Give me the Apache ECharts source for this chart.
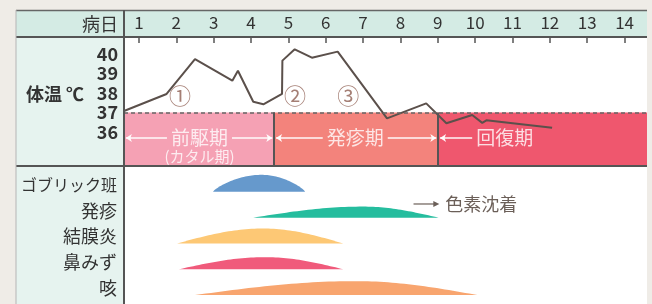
<!DOCTYPE html>
<html>
<head>
<meta charset="utf-8">
<style>
  html, body { margin: 0; padding: 0; background: #efece7; }
  #chart { width: 652px; height: 304px; }
</style>
<script src="https://cdn.jsdelivr.net/npm/echarts@6/dist/echarts.min.js"></script>
</head>
<body>
<div id="chart"></div>
<script>
// ---- data ----
var days = [1, 2, 3, 4, 5, 6, 7, 8, 9, 10, 11, 12, 13, 14];
var tempTicks = [36, 37, 38, 39, 40];
var tempMin = 34.26;
var tempMax = 40.87;

// body temperature curve (day, ℃)
var tempDays = [0.6, 1.74, 2.5, 3.5, 3.65, 4.06, 4.33, 4.83, 4.84, 5.17, 5.63, 6.32, 7.64, 8.69, 9.23, 9.92, 10.19, 10.3, 12.06];
var tempValues = [37.08, 37.95, 39.74, 38.63, 39.14, 37.55, 37.42, 37.95, 39.66, 40.24, 39.81, 40.12, 36.7, 37.47, 36.45, 36.87, 36.47, 36.6, 36.22];
var feverLine = 37;

// phases
var phaseNames = ['前駆期', '発疹期', '回復期'];
var phaseSubNames = ['(カタル期)', '', ''];
var phaseStart = [0.6, 4.62, 9.01];
var phaseEnd = [4.62, 9.01, 14.6];
var phaseLabelDays = [2.62, 6.79, 10.79];
var phaseLabelTemp = 35.69;

// circled markers on the fever curve
var markerLabels = ['①', '②', '③'];
var markerDays = [2.1, 5.18, 6.6];
var markerTemps = [37.85, 37.85, 37.85];

// symptoms: start day, peak day, end day, relative strength
var symptoms = ['ゴブリック班', '発疹', '結膜炎', '鼻みず', '咳'];
var symptomStart = [2.98, 4.06, 2.02, 2.07, 2.5];
var symptomPeak = [4.28, 7.0, 4.32, 4.38, 6.8];
var symptomEnd = [5.45, 9.02, 6.47, 6.47, 10.06];
var symptomLevel = [0.66, 0.43, 0.58, 0.47, 0.54];

// pigmentation note after the rash
var pigmentFrom = 8.35;
var pigmentTo = 9.04;
var pigmentText = '色素沈着';

// ---- styles ----
var FONT = '"Noto Sans CJK JP", "Noto Sans", sans-serif';
var INK = '#333333';
var LINE = '#555555';
var phaseColors = ['#f5a1b4', '#f3837c', '#ef576e'];
var symptomColors = ['#6699cc', '#25bd9e', '#fdc875', '#f05a7b', '#f8a56f'];
var domePower = [0.75, 1, 1, 1, 1];

var chart = echarts.init(document.getElementById('chart'), null, { renderer: 'canvas' });

var tempData = tempDays.map(function (d, i) { return [d, tempValues[i]]; });

var areaData = phaseNames.map(function (n, i) {
  return [
    { coord: [phaseStart[i], feverLine], itemStyle: { color: phaseColors[i], opacity: 1 } },
    { coord: [phaseEnd[i], tempMin] }
  ];
});

// arrows either side of the phase names
var gap = 0.87, inset = 0.05;
var arrowLines = [];
phaseNames.forEach(function (n, i) {
  var c = phaseLabelDays[i];
  arrowLines.push([
    { coord: [c - gap, phaseLabelTemp], symbol: 'none' },
    { coord: [phaseStart[i] + inset, phaseLabelTemp], symbol: 'arrow', symbolSize: 6 }
  ]);
  if (i < phaseNames.length - 1) {
    arrowLines.push([
      { coord: [c + gap, phaseLabelTemp], symbol: 'none' },
      { coord: [phaseEnd[i] - inset, phaseLabelTemp], symbol: 'arrow', symbolSize: 6 }
    ]);
  }
});
arrowLines.forEach(function (p) {
  p[0].lineStyle = { color: '#ffffff', width: 1.5, type: 'solid', opacity: 0.95 };
});

var dividerLines = phaseEnd.slice(0, -1).map(function (d) {
  return [
    { coord: [d, feverLine], symbol: 'none', lineStyle: { color: LINE, width: 2, type: 'solid' } },
    { coord: [d, tempMin], symbol: 'none' }
  ];
});

var phaseLabelData = phaseNames.map(function (n, i) {
  var two = phaseSubNames[i] !== '';
  return {
    value: [phaseLabelDays[i], phaseLabelTemp],
    label: {
      show: true,
      position: 'inside',
      align: 'center',
      verticalAlign: 'middle',
      offset: two ? [0, 9] : [0, 0],
      formatter: two ? '{a|' + n + '}\n{b|' + phaseSubNames[i] + '}' : '{a|' + n + '}',
      rich: {
        a: { fontSize: 19, lineHeight: 19, color: '#ffffff', fontFamily: FONT, align: 'center' },
        b: { fontSize: 15, lineHeight: 18, color: '#ffffff', fontFamily: FONT, align: 'center' }
      }
    }
  };
});

var markerData = markerLabels.map(function (t, i) {
  return { value: [markerDays[i], markerTemps[i]], name: t };
});

var symptomData = symptoms.map(function (s, i) {
  return [i, symptomStart[i], symptomPeak[i], symptomEnd[i], symptomLevel[i]];
});

function renderDome(params, api) {
  var row = api.value(0);
  var i = params.dataIndex;
  var ps = api.coord([api.value(1), row]);
  var xp = api.coord([api.value(2), row])[0];
  var xe = api.coord([api.value(3), row])[0];
  var band = api.size([0, 1])[1];
  var base = ps[1] + band * 0.27;
  var h = api.value(4) * band;
  var pw = domePower[i];
  var pts = [], n = 30, k, u;
  for (k = 0; k <= n; k++) {
    u = k / n;
    pts.push([ps[0] + (xp - ps[0]) * u, base - h * Math.pow(Math.sin(u * Math.PI / 2), pw)]);
  }
  for (k = 1; k <= n; k++) {
    u = k / n;
    pts.push([xp + (xe - xp) * u, base - h * Math.pow(Math.cos(u * Math.PI / 2), pw)]);
  }
  return { type: 'polygon', shape: { points: pts }, style: { fill: symptomColors[i] } };
}

function renderPigment(params, api) {
  var row = api.value(2);
  var a = api.coord([api.value(0), row]);
  var b = api.coord([api.value(1), row]);
  var band = api.size([0, 1])[1];
  var y = a[1] - band * 0.26;
  var c = '#6b5f58';
  return {
    type: 'group',
    children: [
      { type: 'line', shape: { x1: a[0], y1: y, x2: b[0] - 4, y2: y }, style: { stroke: c, lineWidth: 1.2 } },
      { type: 'polygon', shape: { points: [[b[0], y], [b[0] - 6, y - 3], [b[0] - 6, y + 3]] }, style: { fill: c } },
      { type: 'text', style: { x: b[0] + 6, y: y, text: pigmentText, fill: c, font: '18px ' + FONT, verticalAlign: 'middle', align: 'left' } }
    ]
  };
}

var option = {
  backgroundColor: '#efece7',
  animation: false,
  textStyle: { fontFamily: FONT },
  graphic: [
    { type: 'rect', z: -10, shape: { x: 124, y: 37, width: 523, height: 267 }, style: { fill: '#ffffff' } },
    { type: 'rect', z: -10, shape: { x: 16, y: 10, width: 631, height: 27 }, style: { fill: '#d4ebe4' } },
    { type: 'rect', z: -10, shape: { x: 16, y: 37, width: 108, height: 267 }, style: { fill: '#e6f3ef' } },
    { type: 'line', z: 100, shape: { x1: 16, y1: 10.5, x2: 647, y2: 10.5 }, style: { stroke: '#666', lineWidth: 1.5 } },
    { type: 'line', z: 100, shape: { x1: 16, y1: 37, x2: 647, y2: 37 }, style: { stroke: LINE, lineWidth: 2 } },
    { type: 'line', z: 100, shape: { x1: 16, y1: 166, x2: 647, y2: 166 }, style: { stroke: LINE, lineWidth: 2 } },
    { type: 'line', z: 100, shape: { x1: 124, y1: 10, x2: 124, y2: 304 }, style: { stroke: LINE, lineWidth: 2 } },
    { type: 'line', z: 100, shape: { x1: 16, y1: 10, x2: 16, y2: 304 }, style: { stroke: '#b5b5b5', lineWidth: 1 } },
    { type: 'text', z: 100, style: { x: 118, y: 24, text: '病日', fill: INK, font: '18px ' + FONT, align: 'right', verticalAlign: 'middle' } },
    { type: 'text', z: 100, style: { x: 26, y: 94, text: '体温 ℃', fill: INK, font: 'bold 18px ' + FONT, align: 'left', verticalAlign: 'middle' } }
  ],
  grid: [
    { left: 124, right: 5, top: 37, height: 129 },
    { left: 124, right: 5, top: 172, bottom: 3 }
  ],
  xAxis: [
    {
      gridIndex: 0, type: 'value', position: 'top', min: 0.6, max: 14.6,
      axisLine: { show: false }, splitLine: { show: false },
      axisTick: { show: true, inside: true, length: 6, customValues: days, lineStyle: { color: LINE, width: 1.5 } },
      axisLabel: { customValues: days, margin: 6, color: INK, fontSize: 17, fontFamily: FONT }
    },
    { gridIndex: 1, type: 'value', min: 0.6, max: 14.6, show: false }
  ],
  yAxis: [
    {
      gridIndex: 0, type: 'value', min: tempMin, max: tempMax,
      axisLine: { show: false }, splitLine: { show: false },
      axisTick: { show: true, inside: true, length: 4, customValues: [36], lineStyle: { color: LINE, width: 1.5 } },
      axisLabel: { customValues: tempTicks, margin: 6, color: INK, fontSize: 18, fontWeight: 'bold', fontFamily: FONT }
    },
    {
      gridIndex: 1, type: 'category', inverse: true, data: symptoms,
      axisLine: { show: false }, axisTick: { show: false }, splitLine: { show: false },
      axisLabel: {
        margin: 7, color: INK, fontFamily: FONT,
        formatter: function (v) { return v.length > 4 ? '{s|' + v + '}' : '{n|' + v + '}'; },
        rich: {
          s: { fontSize: 16, color: INK, fontFamily: FONT },
          n: { fontSize: 18, color: INK, fontFamily: FONT }
        }
      }
    }
  ],
  series: [
    {
      name: 'phases', type: 'line', xAxisIndex: 0, yAxisIndex: 0, z: 1, data: [],
      markArea: { silent: true, label: { show: false }, data: areaData }
    },
    {
      name: '体温', type: 'line', xAxisIndex: 0, yAxisIndex: 0, z: 3,
      data: tempData, showSymbol: false, symbol: 'none',
      lineStyle: { color: '#5b504b', width: 2 },
      markLine: {
        silent: true, symbol: 'none', label: { show: false },
        data: [{ yAxis: feverLine, lineStyle: { color: '#666', width: 1.5, type: [4, 3] } }]
          .concat(dividerLines).concat(arrowLines)
      }
    },
    {
      name: 'phaseLabels', type: 'scatter', xAxisIndex: 0, yAxisIndex: 0, z: 4,
      symbolSize: 1, itemStyle: { color: 'rgba(0,0,0,0)' }, data: phaseLabelData
    },
    {
      name: 'markers', type: 'scatter', xAxisIndex: 0, yAxisIndex: 0, z: 4,
      symbolSize: 1, itemStyle: { color: 'rgba(0,0,0,0)' }, data: markerData,
      label: {
        show: true, position: 'inside', align: 'center', verticalAlign: 'middle',
        formatter: '{b}', fontSize: 22, color: '#8f5f52', fontFamily: FONT
      }
    },
    {
      name: 'symptoms', type: 'custom', xAxisIndex: 1, yAxisIndex: 1,
      renderItem: renderDome, encode: { x: [1, 2, 3], y: 0 }, data: symptomData
    },
    {
      name: 'pigment', type: 'custom', xAxisIndex: 1, yAxisIndex: 1,
      renderItem: renderPigment, encode: { x: [0, 1], y: 2 },
      data: [[pigmentFrom, pigmentTo, 1]]
    }
  ]
};

chart.setOption(option);
</script>
</body>
</html>
